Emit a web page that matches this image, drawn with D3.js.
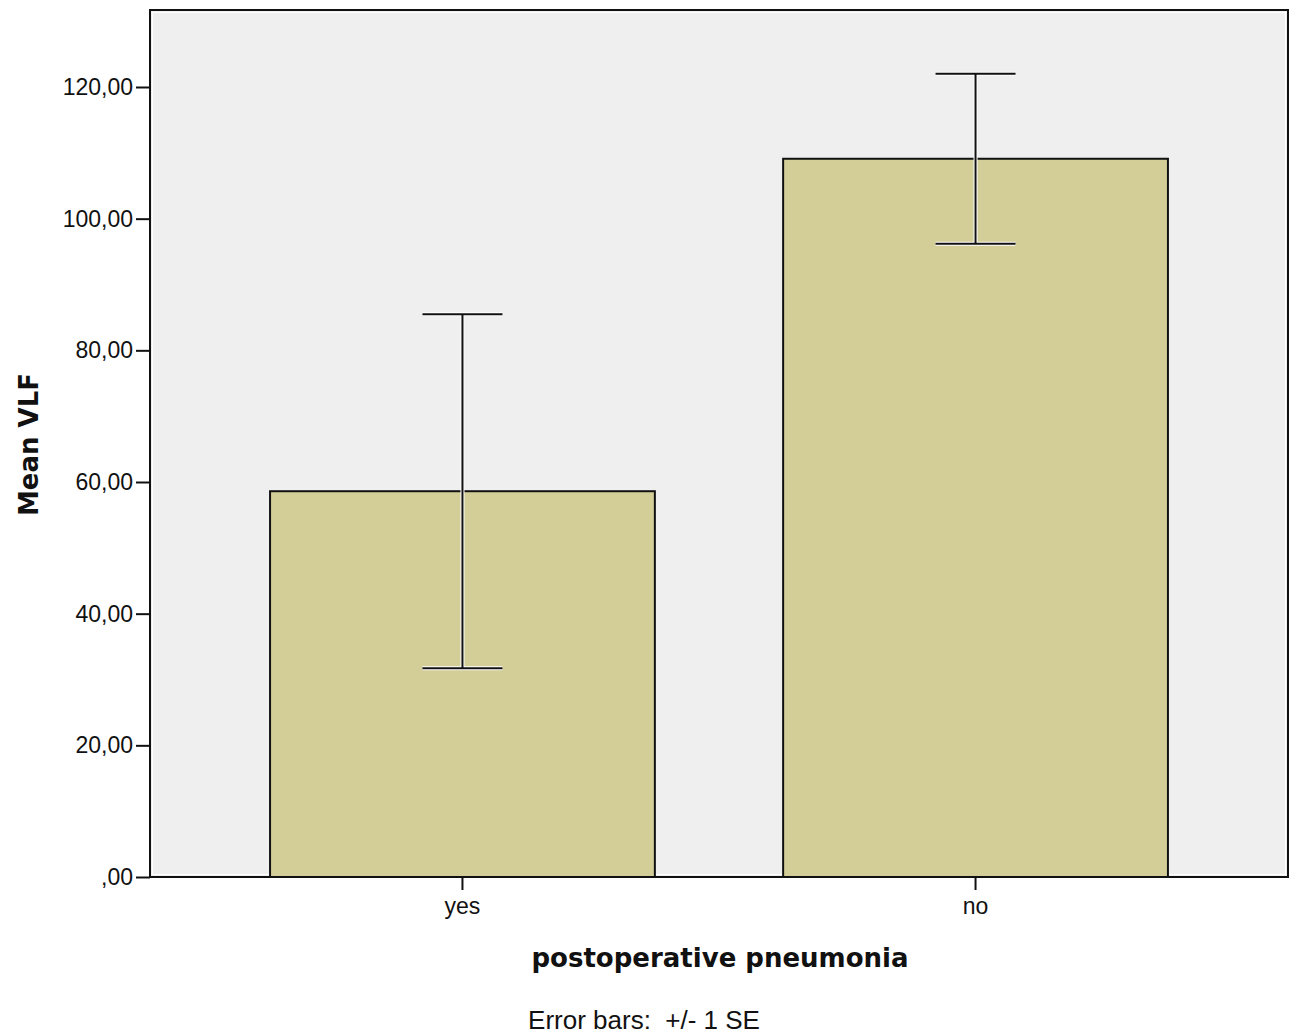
<!DOCTYPE html>
<html>
<head>
<meta charset="utf-8">
<script src="https://cdn.jsdelivr.net/npm/d3@7"></script>
<style>
  html, body { margin: 0; padding: 0; background: #ffffff; }
  svg { display: block; }
</style>
</head>
<body>
<svg id="chart" width="1291" height="1036"></svg>
<script>
// ---- data ----
const categories = ["yes", "no"];
const means = [58.6, 109.1];
const errLow = [31.7, 96.2];
const errHigh = [85.5, 122.0];
const yTicks = [0, 20, 40, 60, 80, 100, 120];
const yTickLabels = [",00", "20,00", "40,00", "60,00", "80,00", "100,00", "120,00"];
const xTitle = "postoperative pneumonia";
const yTitle = "Mean VLF";
const footnote = "Error bars: +/- 1 SE";

// ---- layout ----
const W = 1291, H = 1036;
const plot = { left: 150, top: 10, right: 1288, bottom: 877 };

const svg = d3.select("#chart");

const x = d3.scaleBand()
  .domain(categories)
  .range([plot.left, plot.right])
  .paddingInner(0.25)
  .paddingOuter(0.234);

const y = d3.scaleLinear()
  .domain([0, 120])
  .range([plot.bottom, 87]);

// plot background
svg.append("rect")
  .attr("x", plot.left).attr("y", plot.top)
  .attr("width", plot.right - plot.left).attr("height", plot.bottom - plot.top)
  .attr("fill", "#efefef");

// inner white line
svg.append("rect")
  .attr("x", plot.left + 2.5).attr("y", plot.top + 2.5)
  .attr("width", plot.right - plot.left - 5).attr("height", plot.bottom - plot.top - 5)
  .attr("fill", "none").attr("stroke", "#ffffff").attr("stroke-width", 1);

// bars
const data = categories.map((c, i) => ({ c, m: means[i], lo: errLow[i], hi: errHigh[i] }));

svg.append("g").selectAll("rect")
  .data(data).join("rect")
  .attr("x", d => x(d.c))
  .attr("y", d => y(d.m))
  .attr("width", x.bandwidth())
  .attr("height", d => y(0) - y(d.m))
  .attr("fill", "#d3ce98")
  .attr("stroke", "#111")
  .attr("stroke-width", 2);

// error bars (white halo + black line)
const capW = 80;
const eb = svg.append("g");
[{ c: "#ffffff", w: 4 }, { c: "#111111", w: 2 }].forEach(s => {
  const g = eb.append("g").attr("stroke", s.c).attr("stroke-width", s.w).attr("fill", "none");
  g.selectAll("line.v").data(data).join("line").attr("class", "v")
    .attr("x1", d => x(d.c) + x.bandwidth() / 2).attr("x2", d => x(d.c) + x.bandwidth() / 2)
    .attr("y1", d => y(d.lo)).attr("y2", d => y(d.hi));
  g.selectAll("line.t").data(data).join("line").attr("class", "t")
    .attr("x1", d => x(d.c) + x.bandwidth() / 2 - capW / 2).attr("x2", d => x(d.c) + x.bandwidth() / 2 + capW / 2)
    .attr("y1", d => y(d.hi)).attr("y2", d => y(d.hi));
  g.selectAll("line.b").data(data).join("line").attr("class", "b")
    .attr("x1", d => x(d.c) + x.bandwidth() / 2 - capW / 2).attr("x2", d => x(d.c) + x.bandwidth() / 2 + capW / 2)
    .attr("y1", d => y(d.lo)).attr("y2", d => y(d.lo));
});

// frame
svg.append("rect")
  .attr("x", plot.left).attr("y", plot.top)
  .attr("width", plot.right - plot.left).attr("height", plot.bottom - plot.top)
  .attr("fill", "none").attr("stroke", "#111").attr("stroke-width", 2);

// y axis
const yAxis = d3.axisLeft(y)
  .tickValues(yTicks)
  .tickFormat((d, i) => yTickLabels[i])
  .tickSize(14)
  .tickPadding(3);
const gy = svg.append("g").attr("transform", `translate(${plot.left},0)`).call(yAxis);
gy.select(".domain").remove();
gy.selectAll(".tick line").attr("stroke", "#111").attr("stroke-width", 2);
gy.selectAll(".tick text")
  .attr("font-family", "'Liberation Sans', Arial, sans-serif")
  .attr("font-size", 23).attr("fill", "#111");

// x axis
const xAxis = d3.axisBottom(x).tickSize(13).tickPadding(8);
const gx = svg.append("g").attr("transform", `translate(0,${plot.bottom})`).call(xAxis);
gx.select(".domain").remove();
gx.selectAll(".tick line").attr("stroke", "#111").attr("stroke-width", 2);
gx.selectAll(".tick text")
  .attr("font-family", "'Liberation Sans', Arial, sans-serif")
  .attr("font-size", 23).attr("fill", "#111");

// titles
svg.append("text")
  .attr("x", (plot.left + plot.right) / 2 + 1).attr("y", 967)
  .attr("text-anchor", "middle")
  .attr("font-family", "'DejaVu Sans', sans-serif")
  .attr("font-weight", "bold").attr("font-size", 26).attr("fill", "#111")
  .text(xTitle);

svg.append("text")
  .attr("transform", `translate(38,${(372 + 517) / 2}) rotate(-90)`)
  .attr("text-anchor", "middle")
  .attr("font-family", "'DejaVu Sans', sans-serif")
  .attr("font-weight", "bold").attr("font-size", 26).attr("fill", "#111")
  .text(yTitle);

svg.append("text")
  .attr("x", 644).attr("y", 1029)
  .attr("text-anchor", "middle")
  .attr("font-family", "'Liberation Sans', Arial, sans-serif")
  .attr("font-size", 26).attr("fill", "#111")
  .attr("xml:space", "preserve")
  .style("white-space", "pre")
  .text(footnote.replace(": ", ":  "));
</script>
</body>
</html>
